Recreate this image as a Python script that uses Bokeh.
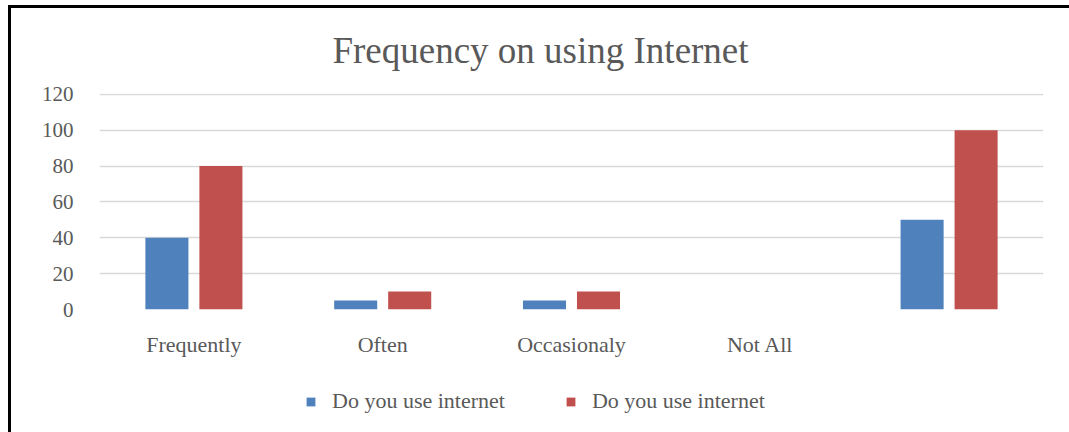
from bokeh.plotting import figure
from bokeh.layouts import column
from bokeh.models import FactorRange, Range1d, Legend, LegendItem, ColumnDataSource, FixedTicker, Label
from bokeh.transform import dodge
from bokeh.embed import file_html
from bokeh.resources import INLINE

categories = ["Frequently", "Often", "Occasionaly", "Not All", " "]
series_a = [40, 5, 5, 0, 50]
series_b = [80, 10, 10, 0, 100]
series_names = ["Do you use internet", "Do you use internet"]
y_ticks = [0, 20, 40, 60, 80, 100, 120]
chart_title = "Frequency on using Internet"

SERIF = "Liberation Serif"
TEXT = "#595959"
BLUE = "#4f81bd"
RED = "#c0504d"
PAD_L, PAD_R, FRAME_W = 88, 26, 944


def strip(height):
    """A bare figure sharing the chart's horizontal frame, used for title/legend rows."""
    f = figure(
        width=PAD_L + FRAME_W + PAD_R, height=height,
        x_range=Range1d(0, FRAME_W), y_range=Range1d(0, height),
        x_axis_type=None, y_axis_type=None,
        output_backend="svg", toolbar_location=None,
        min_border_left=PAD_L, min_border_right=PAD_R,
        min_border_top=0, min_border_bottom=0,
    )
    f.outline_line_color = None
    f.background_fill_color = "white"
    f.border_fill_color = "white"
    f.grid.visible = False
    return f


# title row
tt = strip(75)
tt.add_layout(Label(x=441, y=33, text=chart_title, text_align="center",
                    text_baseline="alphabetic", text_font=SERIF,
                    text_font_size="37px", text_color=TEXT))

# main chart
src = ColumnDataSource(dict(cat=categories, a=series_a, b=series_b))
p = figure(
    frame_width=FRAME_W, frame_height=216,
    x_range=FactorRange(factors=categories, range_padding=0),
    y_range=Range1d(0, 120.5),
    output_backend="svg", toolbar_location=None,
    min_border_left=PAD_L, min_border_right=PAD_R,
    min_border_top=10, min_border_bottom=52,
)
p.outline_line_color = None
p.background_fill_color = "white"
p.border_fill_color = "white"

p.vbar(x=dodge("cat", -0.143, range=p.x_range), top="a", width=0.228,
       source=src, fill_color=BLUE, line_color=None)
p.vbar(x=dodge("cat", 0.143, range=p.x_range), top="b", width=0.228,
       source=src, fill_color=RED, line_color=None)

p.xaxis.axis_line_color = None
p.xaxis.major_tick_line_color = None
p.xaxis.minor_tick_line_color = None
p.xaxis.major_label_text_font = SERIF
p.xaxis.major_label_text_font_size = "22px"
p.xaxis.major_label_text_color = TEXT
p.xaxis.major_label_standoff = 16

p.yaxis.ticker = FixedTicker(ticks=y_ticks)
p.yaxis.axis_line_color = None
p.yaxis.major_tick_line_color = None
p.yaxis.minor_tick_line_color = None
p.yaxis.major_label_text_font = SERIF
p.yaxis.major_label_text_font_size = "21px"
p.yaxis.major_label_text_color = TEXT
p.yaxis.major_label_standoff = 20

p.xgrid.grid_line_color = None
p.ygrid.grid_line_color = "#d9d9d9"
p.ygrid.grid_line_width = 1.5

# legend row; swatch renderers have zero height so only the legend shows them
lg = strip(71)
la = lg.vbar(x=[400], top=[0], bottom=[0], width=1, fill_color=BLUE, line_color=None)
lb = lg.vbar(x=[400], top=[0], bottom=[0], width=1, fill_color=RED, line_color=None)

legend = Legend(
    items=[LegendItem(label=series_names[0], renderers=[la]),
           LegendItem(label=series_names[1], renderers=[lb])],
    orientation="horizontal",
    location=(206, 18),
    glyph_width=11, glyph_height=11,
    label_standoff=16, spacing=60,
    label_text_font=SERIF, label_text_font_size="22px", label_text_color=TEXT,
    border_line_color=None, background_fill_alpha=0,
    padding=0, margin=0,
)
lg.add_layout(legend)

layout = column(tt, p, lg, spacing=0)
# black frame edges on the left and top of the chart box
layout.styles = {
    "border-left": "3px solid black",
    "border-top": "3px solid black",
    "margin-left": "8px",
    "margin-top": "5px",
}

open("out.html", "w").write(file_html(layout, INLINE))
